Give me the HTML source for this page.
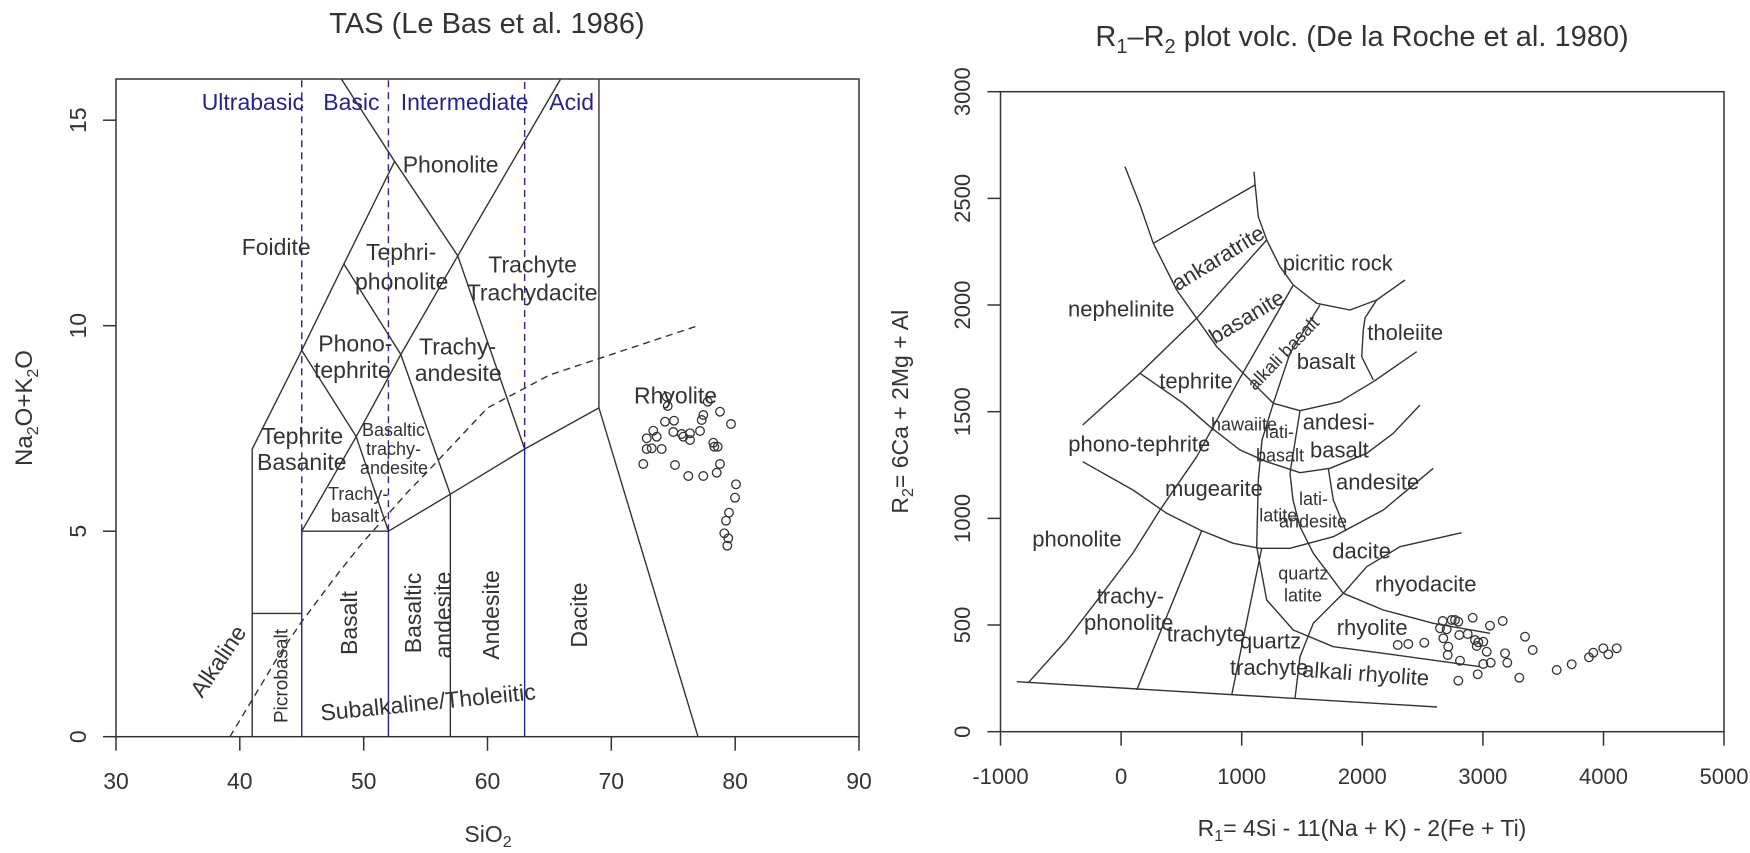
<!DOCTYPE html>
<html><head><meta charset="utf-8"><style>
html,body{margin:0;padding:0;background:#fff;}
svg{display:block;font-family:"Liberation Sans",Arial,sans-serif;}
text{fill:#333;}
</style></head><body>
<svg width="1750" height="853" viewBox="0 0 1750 853" xmlns="http://www.w3.org/2000/svg">
<rect width="1750" height="853" fill="#fff"/>

<!-- ================= LEFT: TAS ================= -->
<text x="487" y="33" font-size="29" text-anchor="middle">TAS (Le Bas et al. 1986)</text>
<rect x="116" y="79" width="743" height="657.7" fill="none" stroke="#333" stroke-width="1.5"/>
<g stroke="#333" stroke-width="1.5">
<line x1="116" y1="736.7" x2="116" y2="750.7"/><line x1="239.8" y1="736.7" x2="239.8" y2="750.7"/>
<line x1="363.7" y1="736.7" x2="363.7" y2="750.7"/><line x1="487.5" y1="736.7" x2="487.5" y2="750.7"/>
<line x1="611.3" y1="736.7" x2="611.3" y2="750.7"/><line x1="735.2" y1="736.7" x2="735.2" y2="750.7"/>
<line x1="859" y1="736.7" x2="859" y2="750.7"/>
<line x1="103" y1="736.7" x2="116" y2="736.7"/><line x1="103" y1="531.2" x2="116" y2="531.2"/>
<line x1="103" y1="325.7" x2="116" y2="325.7"/><line x1="103" y1="120.2" x2="116" y2="120.2"/>
</g>
<g font-size="23" text-anchor="middle">
<text x="116" y="789">30</text><text x="239.8" y="789">40</text><text x="363.7" y="789">50</text>
<text x="487.5" y="789">60</text><text x="611.3" y="789">70</text><text x="735.2" y="789">80</text><text x="859" y="789">90</text>
<text transform="translate(86,736.7) rotate(-90)">0</text>
<text transform="translate(86,531.2) rotate(-90)">5</text>
<text transform="translate(86,325.7) rotate(-90)">10</text>
<text transform="translate(86,120.2) rotate(-90)">15</text>
</g>
<text x="488" y="842" font-size="23" text-anchor="middle">SiO<tspan font-size="16" dy="5">2</tspan></text>
<text transform="translate(32,408) rotate(-90)" font-size="24" text-anchor="middle">Na<tspan font-size="16" dy="6">2</tspan><tspan dy="-6">O+K</tspan><tspan font-size="16" dy="6">2</tspan><tspan dy="-6">O</tspan></text>

<g transform="matrix(12.383,0,0,-41.1,-255.49,736.7)" fill="none" stroke="#333" stroke-width="1.4">
<polyline vector-effect="non-scaling-stroke" points="41,0 41,7"/>
<polyline vector-effect="non-scaling-stroke" points="41,3 45,3"/>
<polyline vector-effect="non-scaling-stroke" points="45,5 52,5"/>
<polyline vector-effect="non-scaling-stroke" points="41,7 45,9.4 48.4,11.5 52.5,14"/>
<polyline vector-effect="non-scaling-stroke" points="45,9.4 49.4,7.3 53,9.3 57.6,11.7"/>
<polyline vector-effect="non-scaling-stroke" points="45,5 49.4,7.3 52,5"/>
<polyline vector-effect="non-scaling-stroke" points="48.4,11.5 53,9.3 57,5.9"/>
<polyline vector-effect="non-scaling-stroke" points="52,5 57,5.9 63,7 69,8"/>
<polyline vector-effect="non-scaling-stroke" points="57,0 57,5.9"/>
<polyline vector-effect="non-scaling-stroke" points="63,7 57.6,11.7 52.5,14 48.2,16"/>
<polyline vector-effect="non-scaling-stroke" points="57.6,11.7 65.9,16"/>
<polyline vector-effect="non-scaling-stroke" points="69,16 69,8 77,0"/>
<polyline vector-effect="non-scaling-stroke" stroke-dasharray="7,5" points="39.2,0 40,0.4 43.2,2 45,2.8 48,4 50,4.75 53.7,6 55,6.4 60,8 65,8.8 70,9.3 77,10"/>
<g stroke="#25258a">
<polyline vector-effect="non-scaling-stroke" points="45,0 45,5"/>
<polyline vector-effect="non-scaling-stroke" points="52,0 52,5"/>
<polyline vector-effect="non-scaling-stroke" points="63,0 63,7"/>
<polyline vector-effect="non-scaling-stroke" stroke-dasharray="7,5" points="45,5 45,16"/>
<polyline vector-effect="non-scaling-stroke" stroke-dasharray="7,5" points="52,5 52,16"/>
<polyline vector-effect="non-scaling-stroke" stroke-dasharray="7,5" points="63,7 63,16"/>
</g>
</g>

<g font-size="23">
<text x="201.7" y="110" style="fill:#25258a">Ultrabasic</text>
<text x="323.3" y="110" style="fill:#25258a">Basic</text>
<text x="400.7" y="110" style="fill:#25258a">Intermediate</text>
<text x="549.3" y="110" style="fill:#25258a">Acid</text>
</g>
<g font-size="23">
<text x="402.7" y="172.7">Phonolite</text>
<text x="241.7" y="255">Foidite</text>
<text x="366" y="260">Tephri-</text>
<text x="355" y="289.3">phonolite</text>
<text x="488.3" y="272.7">Trachyte</text>
<text x="466.7" y="300.7">Trachydacite</text>
<text x="318.3" y="351.7">Phono-</text>
<text x="314" y="378">tephrite</text>
<text x="419" y="354.7">Trachy-</text>
<text x="414.7" y="381">andesite</text>
<text x="634" y="403.3">Rhyolite</text>
<text x="261.4" y="444">Tephrite</text>
<text x="257" y="470">Basanite</text>
</g>
<g font-size="18">
<text x="362" y="436">Basaltic</text>
<text x="366" y="455">trachy-</text>
<text x="360" y="474">andesite</text>
<text x="328" y="500">Trachy-</text>
<text x="331" y="522">basalt</text>
</g>
<g font-size="19" text-anchor="middle" dominant-baseline="central">
<text transform="translate(282,676) rotate(-90)">Picrobasalt</text>
</g>
<g font-size="23" text-anchor="middle" dominant-baseline="central">
<text transform="translate(349,623) rotate(-90)">Basalt</text>
<text transform="translate(413,613) rotate(-90)">Basaltic</text>
<text transform="translate(443,615) rotate(-90)">andesite</text>
<text transform="translate(491,615) rotate(-90)">Andesite</text>
<text transform="translate(579,615) rotate(-90)">Dacite</text>
<text transform="translate(218,661) rotate(-56)">Alkaline</text>
<text transform="translate(428,702) rotate(-5.7)">Subalkaline/Tholeiitic</text>
</g>

<g fill="none" stroke="#333" stroke-width="1.3">
<circle cx="666.7" cy="396.7" r="4.3"/><circle cx="667.7" cy="406" r="4.3"/><circle cx="707.7" cy="401.7" r="4.3"/>
<circle cx="720" cy="411.7" r="4.3"/><circle cx="703.3" cy="415" r="4.3"/><circle cx="701.7" cy="420" r="4.3"/>
<circle cx="731" cy="424" r="4.3"/><circle cx="665" cy="421.7" r="4.3"/><circle cx="674" cy="420.7" r="4.3"/>
<circle cx="653.3" cy="430.7" r="4.3"/><circle cx="673.3" cy="432" r="4.3"/><circle cx="681.7" cy="434" r="4.3"/>
<circle cx="690" cy="433.3" r="4.3"/><circle cx="700" cy="431" r="4.3"/><circle cx="683.3" cy="436.7" r="4.3"/>
<circle cx="690" cy="440" r="4.3"/><circle cx="646.7" cy="438.3" r="4.3"/><circle cx="656.7" cy="436.7" r="4.3"/>
<circle cx="713.3" cy="442.7" r="4.3"/><circle cx="714.3" cy="446.7" r="4.3"/><circle cx="717.7" cy="446.7" r="4.3"/>
<circle cx="646.7" cy="449" r="4.3"/><circle cx="651.7" cy="448.3" r="4.3"/><circle cx="661.7" cy="449" r="4.3"/>
<circle cx="643.3" cy="464" r="4.3"/><circle cx="675" cy="465" r="4.3"/><circle cx="688.3" cy="476" r="4.3"/>
<circle cx="703.3" cy="476" r="4.3"/><circle cx="716.7" cy="472.7" r="4.3"/><circle cx="720" cy="464" r="4.3"/>
<circle cx="736" cy="484.3" r="4.3"/><circle cx="735" cy="497.7" r="4.3"/><circle cx="729" cy="512.7" r="4.3"/>
<circle cx="726" cy="520.7" r="4.3"/><circle cx="724.3" cy="533.3" r="4.3"/><circle cx="728.3" cy="538.3" r="4.3"/>
<circle cx="727.3" cy="545.7" r="4.3"/>
</g>

<!-- ================= RIGHT: R1-R2 ================= -->
<text x="1362" y="46" font-size="29" text-anchor="middle">R<tspan font-size="20" dy="7">1</tspan><tspan dy="-7">–R</tspan><tspan font-size="20" dy="7">2</tspan><tspan dy="-7"> plot volc. (De la Roche et al. 1980)</tspan></text>
<rect x="1000.5" y="91.7" width="723.5" height="640" fill="none" stroke="#333" stroke-width="1.5"/>
<g stroke="#333" stroke-width="1.5">
<line x1="1000.5" y1="731.7" x2="1000.5" y2="745.7"/><line x1="1121.1" y1="731.7" x2="1121.1" y2="745.7"/>
<line x1="1241.7" y1="731.7" x2="1241.7" y2="745.7"/><line x1="1362.3" y1="731.7" x2="1362.3" y2="745.7"/>
<line x1="1482.9" y1="731.7" x2="1482.9" y2="745.7"/><line x1="1603.5" y1="731.7" x2="1603.5" y2="745.7"/>
<line x1="1724" y1="731.7" x2="1724" y2="745.7"/>
<line x1="987.5" y1="731.7" x2="1000.5" y2="731.7"/><line x1="987.5" y1="625" x2="1000.5" y2="625"/>
<line x1="987.5" y1="518.4" x2="1000.5" y2="518.4"/><line x1="987.5" y1="411.7" x2="1000.5" y2="411.7"/>
<line x1="987.5" y1="305" x2="1000.5" y2="305"/><line x1="987.5" y1="198.4" x2="1000.5" y2="198.4"/>
<line x1="987.5" y1="91.7" x2="1000.5" y2="91.7"/>
</g>
<g font-size="22" text-anchor="middle">
<text x="1000.5" y="784">-1000</text><text x="1121.1" y="784">0</text><text x="1241.7" y="784">1000</text>
<text x="1362.3" y="784">2000</text><text x="1482.9" y="784">3000</text><text x="1603.5" y="784">4000</text><text x="1724" y="784">5000</text>
<text transform="translate(970,731.7) rotate(-90)">0</text>
<text transform="translate(970,625) rotate(-90)">500</text>
<text transform="translate(970,518.4) rotate(-90)">1000</text>
<text transform="translate(970,411.7) rotate(-90)">1500</text>
<text transform="translate(970,305) rotate(-90)">2000</text>
<text transform="translate(970,198.4) rotate(-90)">2500</text>
<text transform="translate(970,91.7) rotate(-90)">3000</text>
</g>
<text x="1362" y="836" font-size="23" text-anchor="middle">R<tspan font-size="16" dy="5">1</tspan><tspan dy="-5">= 4Si - 11(Na + K) - 2(Fe + Ti)</tspan></text>
<text transform="translate(908,411.7) rotate(-90)" font-size="23" text-anchor="middle">R<tspan font-size="16" dy="5">2</tspan><tspan dy="-5">= 6Ca + 2Mg + Al</tspan></text>

<g fill="none" stroke="#333" stroke-width="1.4" stroke-linejoin="round">
<polyline points="1125,166.7 1140,205 1153.3,243.3 1176.7,290 1196.7,318.3 1216.7,346.7 1250,380 1273.3,403.3 1300,410.7 1340,401.7 1373.3,381.7 1416.7,351.7"/>
<polyline points="1254,171.7 1255,183.3 1258.3,216.7 1266.7,240 1280,266.7 1293.3,285 1316.7,303.3 1350,310 1376.7,300 1405,280"/>
<polyline points="1153.3,243.3 1255,185"/>
<polyline points="1266.7,240 1196.7,318.3 1140,373.3 1082.7,425"/>
<polyline points="1293.3,285 1240,378 1196.7,456.7 1160,510 1133,553 1100,596.7 1066.7,640 1028.3,682.7"/>
<polyline points="1320,305 1290,353.3 1273.3,403.3 1262,440 1258.3,480 1256.7,546.7 1266.7,600 1293.3,630 1333.3,646.7 1383.3,653.3 1480,666.7"/>
<polyline points="1376.7,300 1365,318 1363.3,330 1361.7,356.7 1373.3,380"/>
<polyline points="1140,373.3 1183.3,403.3 1210,426.7 1240,450 1266.7,461.7 1300,472.7 1330,468.3 1366.7,453.3 1393.3,433.3 1420,405"/>
<polyline points="1300,410.7 1290,473.3 1293,500 1300,526.7 1313.3,553.3 1343.3,593.3 1383.3,610 1433.3,623.3 1490,633.3"/>
<polyline points="1082.7,461.7 1133,490 1166.7,513.3 1200,530 1233.3,543.3 1260,548.3 1290,548.3 1333.3,536.7 1383.3,510 1433.3,468.3"/>
<polyline points="1328.3,468.3 1333.3,500 1346,531"/>
<polyline points="1201.7,530.7 1136.7,690"/>
<polyline points="1261.7,548.3 1231.7,695"/>
<polyline points="1461.7,532.7 1400,546.7 1366.7,566.7 1343.3,593.3 1313.3,623.3 1300,656.7 1295,698.3"/>
<polyline points="1016.7,681.7 1437,707"/>
</g>

<g font-size="22">
<text x="1068" y="316.7">nephelinite</text>
<text x="1282.7" y="270.7">picritic rock</text>
<text x="1367.3" y="340">tholeiite</text>
<text x="1296.7" y="369">basalt</text>
<text x="1159.3" y="388.3">tephrite</text>
<text x="1302.7" y="429.3">andesi-</text>
<text x="1310" y="457.3">basalt</text>
<text x="1068.3" y="451.7">phono-tephrite</text>
<text x="1165" y="496">mugearite</text>
<text x="1336" y="489.3">andesite</text>
<text x="1032.3" y="546.7">phonolite</text>
<text x="1332.3" y="558.3">dacite</text>
<text x="1375" y="591.7">rhyodacite</text>
<text x="1096.7" y="603.3">trachy-</text>
<text x="1084" y="630">phonolite</text>
<text x="1166.7" y="641.7">trachyte</text>
<text x="1240" y="648.3">quartz</text>
<text x="1230" y="675">trachyte</text>
<text x="1336.7" y="635">rhyolite</text>
<text transform="translate(1301.7,676.7) rotate(4)">alkali rhyolite</text>
<text transform="translate(1218,258) rotate(-31.5)" text-anchor="middle" dominant-baseline="central">ankaratrite</text>
<text transform="translate(1246.7,316.7) rotate(-31)" text-anchor="middle" dominant-baseline="central">basanite</text>
</g>
<g font-size="18">
<text transform="translate(1283.3,353.3) rotate(-46)" text-anchor="middle" dominant-baseline="central">alkali basalt</text>
<text x="1211" y="430.7">hawaiite</text>
<text x="1265" y="438">lati-</text>
<text x="1256" y="461.7">basalt</text>
<text x="1299" y="505">lati-</text>
<text x="1279" y="527.3">andesite</text>
<text x="1259.3" y="521.7">latite</text>
<text x="1278.3" y="579.3">quartz</text>
<text x="1284" y="601.7">latite</text>
</g>

<g fill="none" stroke="#333" stroke-width="1.3">
<circle cx="1442.7" cy="621" r="4.3"/><circle cx="1451.7" cy="620" r="4.3"/><circle cx="1455" cy="620" r="4.3"/>
<circle cx="1458.3" cy="621.7" r="4.3"/><circle cx="1472.7" cy="617.7" r="4.3"/><circle cx="1490" cy="625.7" r="4.3"/>
<circle cx="1502.7" cy="621" r="4.3"/><circle cx="1440" cy="628.3" r="4.3"/><circle cx="1446.7" cy="629.3" r="4.3"/>
<circle cx="1459.3" cy="635" r="4.3"/><circle cx="1467.7" cy="634" r="4.3"/><circle cx="1443.3" cy="638.3" r="4.3"/>
<circle cx="1475" cy="640" r="4.3"/><circle cx="1478.3" cy="642.3" r="4.3"/><circle cx="1483.3" cy="641.7" r="4.3"/>
<circle cx="1476.7" cy="646" r="4.3"/><circle cx="1486.7" cy="651.7" r="4.3"/><circle cx="1505" cy="653.3" r="4.3"/>
<circle cx="1525" cy="636.7" r="4.3"/><circle cx="1532.7" cy="650" r="4.3"/><circle cx="1397.7" cy="645" r="4.3"/>
<circle cx="1408.3" cy="644" r="4.3"/><circle cx="1424.3" cy="642.7" r="4.3"/><circle cx="1448.3" cy="646.7" r="4.3"/>
<circle cx="1447.7" cy="655" r="4.3"/><circle cx="1460" cy="660.7" r="4.3"/><circle cx="1483.3" cy="664" r="4.3"/>
<circle cx="1490.7" cy="662.7" r="4.3"/><circle cx="1507.3" cy="662.7" r="4.3"/><circle cx="1477.7" cy="674.3" r="4.3"/>
<circle cx="1458.3" cy="680.7" r="4.3"/><circle cx="1519.3" cy="677.7" r="4.3"/>
<circle cx="1556.7" cy="670" r="4.3"/><circle cx="1571.7" cy="664.3" r="4.3"/><circle cx="1589" cy="657.3" r="4.3"/>
<circle cx="1593.3" cy="652.7" r="4.3"/><circle cx="1603.3" cy="648.3" r="4.3"/><circle cx="1608.3" cy="654.3" r="4.3"/>
<circle cx="1616.7" cy="648.3" r="4.3"/>
</g>
</svg>
</body></html>
